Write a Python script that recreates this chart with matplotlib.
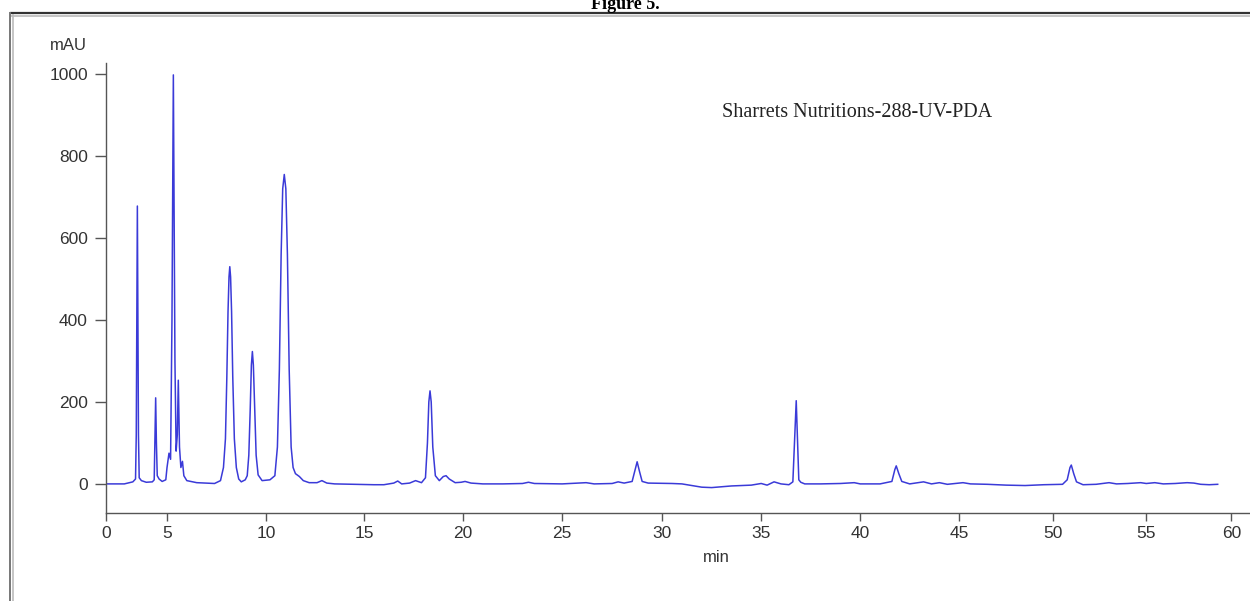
import numpy as np
import matplotlib
matplotlib.use("Agg")
import matplotlib.pyplot as plt
from matplotlib.lines import Line2D

# chromatogram trace (retention time in min, absorbance in mAU)
time_min = [
    0.0, 1.5, 1.9, 2.2, 2.42, 2.48, 2.53, 2.57, 2.61, 2.66, 2.72, 2.9, 3.3, 3.8,
    3.95, 4.02, 4.07, 4.13, 4.2, 4.35, 4.6, 4.9,
    5.0, 5.1, 5.18, 5.25, 5.32, 5.40, 5.46, 5.52, 5.57, 5.63, 5.7, 5.78, 5.85,
    6.0, 6.5, 7.0, 7.4, 7.7,
    7.85, 7.95, 8.02, 8.08, 8.13, 8.17, 8.21, 8.26, 8.32, 8.40, 8.5, 8.62, 8.75, 8.95,
    9.05, 9.13, 9.2, 9.26, 9.31, 9.36, 9.43, 9.5, 9.6, 9.8, 10.2,
    10.45, 10.58, 10.68, 10.77, 10.85, 10.93, 11.01, 11.09, 11.18, 11.28, 11.38,
    11.5, 11.7, 11.9, 12.2, 12.6,
    12.85, 13.1, 13.5, 14.5, 15.5, 16.0, 16.5, 16.7, 16.9, 17.3, 17.6, 17.9,
    18.1, 18.2, 18.27, 18.33, 18.39, 18.47, 18.6, 18.8, 19.0, 19.14, 19.3, 19.6,
    19.9, 20.1, 20.4, 21.0, 22.0, 23.0, 23.3, 23.6, 25.0, 26.2, 26.6, 27.5, 27.8,
    28.1, 28.5, 28.65, 28.75, 28.87, 29.0, 29.3, 30.5, 31.0, 31.5, 32.0, 32.5, 33.0,
    33.5, 34.0, 34.5, 35.0, 35.3, 35.65, 36.0, 36.4, 36.6, 36.7, 36.77, 36.84,
    36.9, 37.0, 37.2, 38.0, 39.0, 39.7, 40.0, 41.0, 41.6, 41.75, 41.82, 41.95,
    42.1, 42.5, 43.2, 43.6, 44.0, 44.4, 45.2, 45.6, 46.5, 47.5, 48.5, 49.5,
    50.5, 50.75, 50.9, 50.97, 51.1, 51.25, 51.6, 52.3, 53.0, 53.4, 54.0, 54.7,
    55.0, 55.5, 56.0, 56.7, 57.4, 57.8, 58.2, 58.7, 59.2,
]
absorb_mau = [
    0, 0, 3, 5, 12, 120, 420, 678, 420, 120, 15, 8, 4, 5,
    10, 120, 210, 100, 20, 12, 6, 10,
    40, 75, 60, 400, 998, 300, 80, 120, 253, 90, 40, 55, 20,
    8, 3, 2, 1, 8,
    40, 110, 260, 420, 505, 530, 505, 420, 260, 110, 40, 12, 5, 10,
    20, 70, 180, 290, 323, 290, 180, 70, 22, 8, 10,
    20, 90, 280, 560, 720, 755, 720, 560, 280, 90, 40,
    25, 18, 8, 3, 3,
    8, 2, 0, -1, -2, -2, 2, 7, 0, 2, 8, 3,
    15, 100, 200, 227, 200, 90, 20, 8, 18, 20, 12, 3,
    4, 6, 2, 0, 0, 1, 4, 1, 0, 3, 0, 1, 5,
    2, 6, 35, 54, 30, 6, 2, 1, 0, -4, -8, -9, -7,
    -5, -4, -3, 1, -3, 5, 0, -2, 5, 120, 203, 100,
    10, 4, 0, 0, 1, 3, 0, 0, 6, 35, 44, 25,
    6, 0, 5, 0, 3, -1, 3, 0, -1, -3, -4, -2,
    -1, 10, 40, 46, 25, 5, -2, -1, 3, 0, 1, 3,
    1, 3, 0, 1, 3, 2, -1, -2, -1,
]

x_ticks = [0, 5, 10, 15, 20, 25, 30, 35, 40, 45, 50, 55, 60]
y_ticks = [0, 200, 400, 600, 800, 1000]
title = "Figure 5."
sample_label = "Sharrets Nutritions-288-UV-PDA"

# the time axis of the original print is not evenly spaced: map minutes to
# the tick spacing seen in the picture
tick_px = [106, 167, 266, 364, 463, 562, 662, 761, 860, 959, 1053, 1146, 1231]
anchor_min = np.array([-5] + x_ticks + [65], dtype=float)
anchor_px = np.array([106 - 61] + tick_px + [1231 + 85], dtype=float)


def fwd(v):
    return np.interp(v, anchor_min, anchor_px)


def inv(v):
    return np.interp(v, anchor_px, anchor_min)


W, H = 1250, 601
fig = plt.figure(figsize=(W / 100, H / 100), dpi=100)
fig.patch.set_facecolor("white")

# frame of the printed figure
fig.add_artist(Line2D([11 / W, 1.0], [1 - 13 / H, 1 - 13 / H], color="#333333", lw=1.6))
fig.add_artist(Line2D([11 / W, 1.0], [1 - 15.5 / H, 1 - 15.5 / H], color="#bbbbbb", lw=1.2))
fig.add_artist(Line2D([10 / W, 10 / W], [0, 1 - 13 / H], color="#777777", lw=1.4))
fig.add_artist(Line2D([12.5 / W, 12.5 / W], [0, 1 - 15 / H], color="#bbbbbb", lw=1.2))
fig.text(0.5, 1 - 9 / H, title, ha="center", va="baseline", fontsize=13,
         fontweight="bold", family="Liberation Serif")

ax = fig.add_axes([106 / W, 88 / H, (W - 106) / W, 450 / H])
ax.set_xscale("function", functions=(fwd, inv))
ax.plot(time_min, absorb_mau, color="#3a3ad8", lw=1.1)

ax.set_xlim(0, 61.1)
ax.set_ylim(-71, 1027)
ax.set_xticks(x_ticks)
ax.set_xticklabels([str(t) for t in x_ticks])
ax.set_yticks(y_ticks)
ax.xaxis.set_minor_locator(matplotlib.ticker.NullLocator())

for s in ["top", "right"]:
    ax.spines[s].set_visible(False)
for s in ["left", "bottom"]:
    ax.spines[s].set_color("#555555")
    ax.spines[s].set_linewidth(1.0)

ax.tick_params(axis="x", direction="out", length=6, width=1.0, color="#555555",
               pad=3, labelsize=12.5, labelcolor="#333333")
ax.tick_params(axis="y", direction="out", length=8, width=1.0, color="#555555",
               pad=5, labelsize=12.5, labelcolor="#333333")
for lab in ax.get_xticklabels() + ax.get_yticklabels():
    lab.set_family("Liberation Sans")

fig.text(716 / W, 1 - 558 / H, "min", ha="center", va="center", fontsize=12,
         family="Liberation Sans", color="#333333")
fig.text(68 / W, 1 - 45 / H, "mAU", ha="center", va="center", fontsize=12,
         family="Liberation Sans", color="#333333")
fig.text(857 / W, 1 - 112 / H, sample_label, ha="center", va="center", fontsize=14.5,
         family="Liberation Serif", color="#222222")

fig.savefig("out.png", dpi=100)
